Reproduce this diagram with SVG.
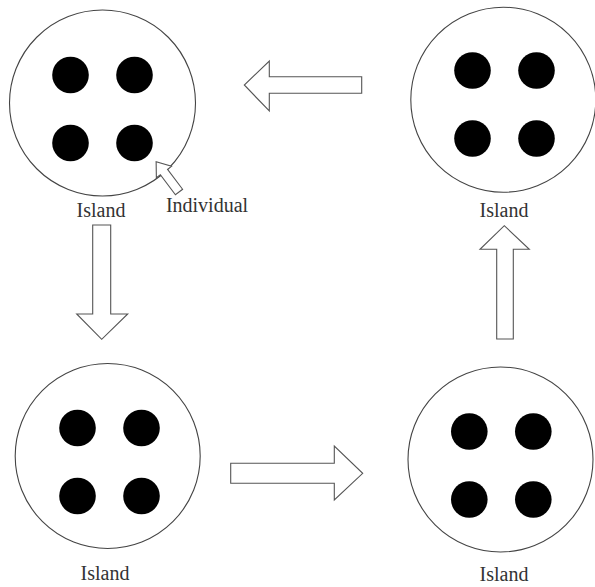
<svg xmlns="http://www.w3.org/2000/svg" width="595" height="587" viewBox="0 0 595 587">
  <style>
    .island { fill: #ffffff; stroke: #444444; stroke-width: 1.1; }
    .dot { fill: #000000; }
    .label { font-family: "Liberation Serif", "DejaVu Serif", serif; font-size: 20px; fill: #333333; text-anchor: middle; }
    .arrow { fill: #ffffff; stroke: #555555; stroke-width: 1.1; stroke-linejoin: miter; }
  </style>
  <defs>
    <g id="members">
      <circle class="dot" cx="-32" cy="-34" r="18.3"/>
      <circle class="dot" cx="32" cy="-34" r="18.3"/>
      <circle class="dot" cx="-32" cy="34" r="18.3"/>
      <circle class="dot" cx="32" cy="34" r="18.3"/>
    </g>
  </defs>
  <rect width="595" height="587" fill="#ffffff"/>

  <!-- islands -->
  <g id="island-top-left">
    <circle class="island" cx="102.5" cy="103" r="93"/>
    <use href="#members" x="102.5" y="109"/>
    <text class="label" x="101" y="217">Island</text>
  </g>
  <g id="island-top-right">
    <circle class="island" cx="503.3" cy="99.7" r="92.5"/>
    <use href="#members" x="504.5" y="104.5"/>
    <text class="label" x="504" y="217">Island</text>
  </g>
  <g id="island-bottom-left">
    <circle class="island" cx="107.7" cy="456" r="92.5"/>
    <use href="#members" x="109.5" y="462"/>
    <text class="label" x="105" y="580">Island</text>
  </g>
  <g id="island-bottom-right">
    <circle class="island" cx="500.5" cy="459.5" r="92.5"/>
    <use href="#members" x="501.3" y="465.5"/>
    <text class="label" x="504" y="581">Island</text>
  </g>

  <!-- individual pointer -->
  <g id="individual">
    <polygon class="arrow" transform="translate(179,192) rotate(-127)" points="0,-4.5 25,-4.5 25,-9.5 38,0 25,9.5 25,4.5 0,4.5"/>
    <text class="label" x="207" y="212">Individual</text>
  </g>

  <!-- migration arrows -->
  <g id="connectors">
    <polygon class="arrow" points="361.7,76.7 269.3,76.7 269.3,61 244.3,85 269.3,111 269.3,93.3 361.7,93.3"/>
    <polygon class="arrow" points="92.7,225 110.7,225 110.7,314 127.7,314 101.7,339.3 76.7,314 92.7,314"/>
    <polygon class="arrow" points="230.7,463.3 334.3,463.3 334.3,446 362.7,473.3 334.3,500 334.3,483.3 230.7,483.3"/>
    <polygon class="arrow" points="496.7,339 496.7,249.3 480,249.3 504.3,225.7 529.3,249.3 513.3,249.3 513.3,339"/>
  </g>
</svg>
